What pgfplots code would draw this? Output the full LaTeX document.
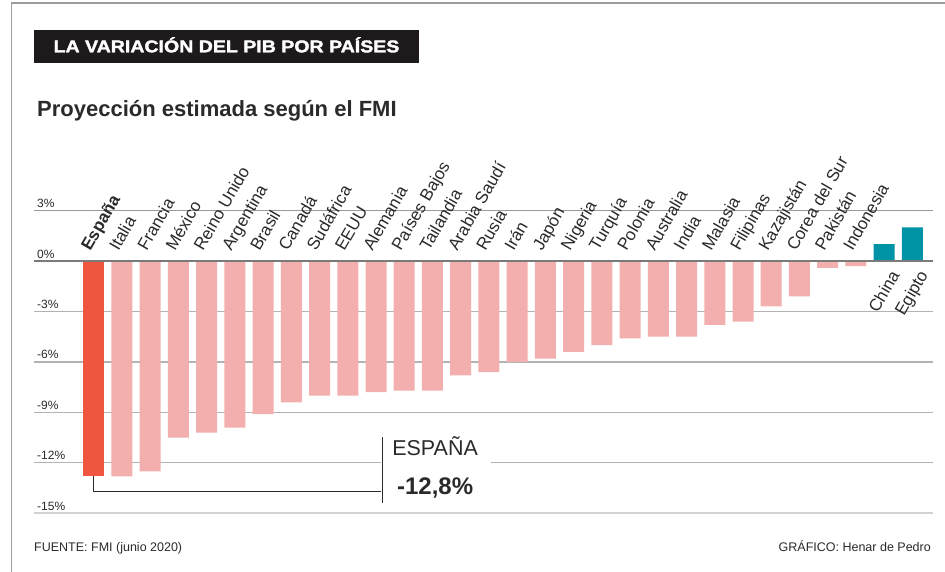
\documentclass[border=0pt]{standalone}
\usepackage{pgfplots}
\pgfplotsset{compat=1.18}
\usepackage{pgfplotstable}
\usepackage{fontspec}
\setmainfont{Liberation Sans}
\newfontfamily\titlefont[FakeStretch=1.15, BoldFeatures={FakeBold=2}]{Liberation Sans}

\definecolor{espana}{HTML}{F0553F}
\definecolor{pinkbar}{HTML}{F3AFAD}
\definecolor{tealbar}{HTML}{0092A5}
\definecolor{txt}{HTML}{2A2A2A}
\definecolor{gridc}{HTML}{B3B3B3}
\definecolor{gridtop}{HTML}{9A9A9A}
\definecolor{gridbot}{HTML}{D2D2D2}
\definecolor{zeroc}{HTML}{7A7A7A}
\definecolor{framec}{HTML}{9C9C9C}
\definecolor{titlebg}{HTML}{1E1A1B}

\pgfplotstableread{
x y
0 -12.8
}\spain
\pgfplotstableread{
x y
1 -12.8
2 -12.5
3 -10.5
4 -10.2
5 -9.9
6 -9.1
7 -8.4
8 -8.0
9 -8.0
10 -7.8
11 -7.7
12 -7.7
13 -6.8
14 -6.6
15 -6.0
16 -5.8
17 -5.4
18 -5.0
19 -4.6
20 -4.5
21 -4.5
22 -3.8
23 -3.6
24 -2.7
25 -2.1
26 -0.4
27 -0.3
}\others
\pgfplotstableread{
x y
28 1.0
29 2.0
}\positive

\begin{document}
\begin{tikzpicture}[
  lab/.style={xshift=-3.5pt, yshift=9pt, rotate=60, anchor=base west, inner sep=0pt,
    font=\fontsize{17}{19}\selectfont, text=txt},
  labd/.style={xshift=16pt, yshift=-14pt, rotate=60, anchor=base east, inner sep=0pt,
    font=\fontsize{17}{19}\selectfont, text=txt}]
\path[use as bounding box] (0pt,0pt) rectangle (945pt,572pt);
% frame
\draw[framec, line width=1.3pt] (11.5pt,0pt) -- (11.5pt,569pt) -- (945pt,569pt);
% title
\fill[titlebg] (34pt,509pt) rectangle (419pt,542pt);
\node[text=white, inner sep=0pt, anchor=base, font=\titlefont\bfseries\fontsize{17}{20}\selectfont] at (226.5pt,519.7pt) {LA VARIACIÓN DEL PIB POR PAÍSES};
\node[anchor=base west, inner sep=0pt, text=txt, font=\bfseries\fontsize{22}{24}\selectfont] at (37pt,455pt) {Proyección estimada según el FMI};

\begin{axis}[
  at={(34pt,58.7pt)}, anchor=south west,
  width=899pt, height=302.7pt, scale only axis,
  xmin=-2.115, xmax=29.73, ymin=-15, ymax=3,
  clip=false,
  axis line style={draw=none},
  major tick length=0pt,
  xtick=\empty,
  ytick={-15,-12,-9,-6,-3,0,3},
  yticklabels={-15\%,-12\%,-9\%,-6\%,-3\%,0\%,3\%},
  yticklabel style={anchor=base west, inner sep=0pt, xshift=3pt, yshift=3pt,
    font=\fontsize{12}{13}\selectfont, text=txt},
  ybar, bar width=21pt, bar shift=0pt,
]
% grid lines
\draw[gridtop, line width=1.1pt] (axis cs:-2.115,3) -- (axis cs:29.73,3);
\draw[gridc, line width=1.2pt] (axis cs:-2.115,-3) -- (axis cs:29.73,-3);
\draw[gridc, line width=1.2pt] (axis cs:-2.115,-6) -- (axis cs:29.73,-6);
\draw[gridc, line width=1.2pt] (axis cs:-2.115,-9) -- (axis cs:29.73,-9);
\draw[gridc, line width=1.2pt] (axis cs:-2.115,-12) -- (axis cs:10.18,-12);
\draw[gridc, line width=1.2pt] (axis cs:14.07,-12) -- (axis cs:29.73,-12);
\draw[gridbot, line width=2pt] (axis cs:-2.115,-15) -- (axis cs:29.73,-15);

\addplot[fill=espana, draw=none] table {\spain};
\addplot[fill=pinkbar, draw=none] table {\others};
\addplot[fill=tealbar, draw=none] table {\positive};

\draw[zeroc, line width=2.5pt] (axis cs:-2.115,0) -- (axis cs:29.73,0);

% country labels
\node[lab, font=\bfseries\fontsize{17}{19}\selectfont] at (axis cs:0,0) {España};
\node[lab] at (axis cs:1,0) {Italia};
\node[lab] at (axis cs:2,0) {Francia};
\node[lab] at (axis cs:3,0) {México};
\node[lab] at (axis cs:4,0) {Reino Unido};
\node[lab] at (axis cs:5,0) {Argentina};
\node[lab] at (axis cs:6,0) {Brasil};
\node[lab] at (axis cs:7,0) {Canadá};
\node[lab] at (axis cs:8,0) {Sudáfrica};
\node[lab] at (axis cs:9,0) {EEUU};
\node[lab] at (axis cs:10,0) {Alemania};
\node[lab] at (axis cs:11,0) {Países Bajos};
\node[lab] at (axis cs:12,0) {Tailandia};
\node[lab] at (axis cs:13,0) {Arabia Saudí};
\node[lab] at (axis cs:14,0) {Rusia};
\node[lab] at (axis cs:15,0) {Irán};
\node[lab] at (axis cs:16,0) {Japón};
\node[lab] at (axis cs:17,0) {Nigeria};
\node[lab] at (axis cs:18,0) {Turquía};
\node[lab] at (axis cs:19,0) {Polonia};
\node[lab] at (axis cs:20,0) {Australia};
\node[lab] at (axis cs:21,0) {India};
\node[lab] at (axis cs:22,0) {Malasia};
\node[lab] at (axis cs:23,0) {Filipinas};
\node[lab] at (axis cs:24,0) {Kazajistán};
\node[lab] at (axis cs:25,0) {Corea del Sur};
\node[lab] at (axis cs:26,0) {Pakistán};
\node[lab] at (axis cs:27,0) {Indonesia};
\node[labd] at (axis cs:28,0) {China};
\node[labd] at (axis cs:29,0) {Egipto};

% annotation
\draw[txt, line width=1.1pt] (axis cs:0,-12.8) -- (axis cs:0,-13.68) -- (axis cs:10.18,-13.68);
\draw[txt, line width=1.1pt] (axis cs:10.22,-10.47) -- (axis cs:10.22,-14.39);
\node[anchor=base west, inner sep=0pt, text=txt, font=\fontsize{21.5}{24}\selectfont] at (axis cs:10.57,-11.54) {ESPAÑA};
\node[anchor=base west, inner sep=0pt, text=txt, font=\bfseries\fontsize{24}{28}\selectfont] at (axis cs:10.74,-13.86) {-12,8\%};
\end{axis}

\node[anchor=base west, inner sep=0pt, text=txt, font=\fontsize{12.5}{14}\selectfont] at (34pt,20pt) {FUENTE: FMI (junio 2020)};
\node[anchor=base east, inner sep=0pt, text=txt, font=\fontsize{12.5}{14}\selectfont] at (931pt,20pt) {GRÁFICO: Henar de Pedro};
\end{tikzpicture}
\end{document}
